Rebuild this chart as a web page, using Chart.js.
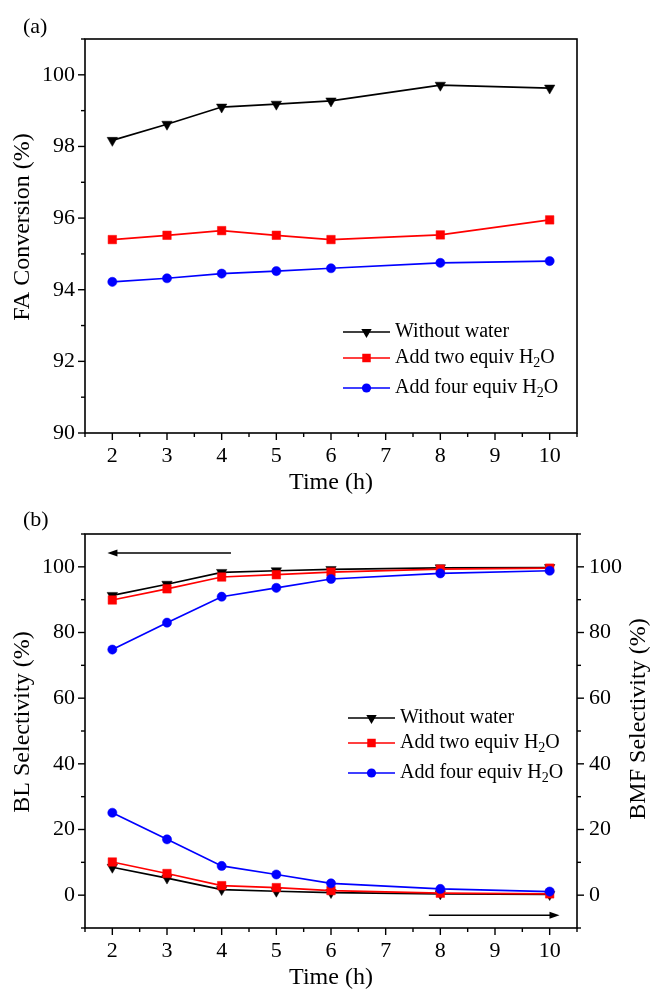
<!DOCTYPE html>
<html lang="en">
<head>
  <meta charset="UTF-8">
  <title>FA conversion and BL / BMF selectivity vs time</title>
  <script src="https://cdn.jsdelivr.net/npm/chart.js"></script>
  <style>
    html, body { margin: 0; padding: 0; background: #fff; }
    .panel { position: relative; width: 651px; height: 495px; }
  </style>
</head>
<body>
  <div class="panel"><canvas id="chart-a" width="651" height="495"></canvas></div>
  <div class="panel"><canvas id="chart-b" width="651" height="495"></canvas></div>
  <script>
    // reaction time (h) of each sample and the labelled x ticks
    const times = [2, 3, 4, 5, 6, 8, 10];
    const timeTicks = [2, 3, 4, 5, 6, 7, 8, 9, 10];
    const seriesNames = ['Without water', 'Add two equiv H_2O', 'Add four equiv H_2O'];

    // (a) FA conversion (%)
    const convWithout = [98.17, 98.62, 99.10, 99.18, 99.27, 99.71, 99.63];
    const convTwo = [95.40, 95.52, 95.65, 95.52, 95.40, 95.53, 95.95];
    const convFour = [94.22, 94.32, 94.45, 94.52, 94.60, 94.75, 94.80];
    const convTicks = [90, 92, 94, 96, 98, 100];

    // (b) BL selectivity (%, left axis) and BMF selectivity (%, right axis)
    const blWithout = [91.3, 94.7, 98.3, 98.8, 99.2, 99.7, 99.8];
    const blTwo = [89.9, 93.3, 96.9, 97.6, 98.4, 99.3, 99.6];
    const blFour = [74.8, 83.0, 90.9, 93.6, 96.3, 98.0, 98.8];
    const bmfWithout = [8.5, 5.2, 1.7, 1.2, 0.8, 0.4, 0.2];
    const bmfTwo = [10.1, 6.6, 2.9, 2.3, 1.4, 0.6, 0.4];
    const bmfFour = [25.1, 17.0, 8.9, 6.3, 3.6, 1.9, 1.1];
    const selTicks = [0, 20, 40, 60, 80, 100];

    const FONT = "'Liberation Serif', 'Times New Roman', serif";
    Chart.defaults.color = '#000';
    Chart.defaults.font.family = FONT;

    const looks = [
      { color: '#000000', pointStyle: 'triangle', rotation: 180, radius: 6, order: 2 },
      { color: '#ff0000', pointStyle: 'rect', rotation: 0, radius: 6, order: 1 },
      { color: '#0000ff', pointStyle: 'circle', rotation: 0, radius: 4.6, order: 0 }
    ];

    function makeSet(values, i, axis) {
      const s = looks[i];
      return {
        label: seriesNames[i],
        data: times.map((t, k) => ({ x: t, y: values[k] })),
        yAxisID: axis,
        borderColor: s.color,
        backgroundColor: s.color,
        borderWidth: 1.7,
        pointStyle: s.pointStyle,
        rotation: s.rotation,
        pointRadius: s.radius,
        pointBorderWidth: 0.5,
        order: s.order,
        tension: 0,
        clip: 8
      };
    }

    function setTicks(list) {
      return scale => { scale.ticks = list.map(v => ({ value: v })); };
    }

    function drawMarker(ctx, style, x, y) {
      ctx.fillStyle = style.color;
      ctx.beginPath();
      if (style.pointStyle === 'triangle') {
        const r = style.radius;
        ctx.moveTo(x - r * 0.866, y - r * 0.5);
        ctx.lineTo(x + r * 0.866, y - r * 0.5);
        ctx.lineTo(x, y + r);
      } else if (style.pointStyle === 'rect') {
        const h = style.radius * Math.SQRT1_2;
        ctx.rect(x - h, y - h, 2 * h, 2 * h);
      } else {
        ctx.arc(x, y, style.radius, 0, Math.PI * 2);
      }
      ctx.closePath();
      ctx.fill();
    }

    // text with "_2" style subscripts
    function drawRich(ctx, text, x, y, size) {
      const parts = text.split(/_(\d)/);
      ctx.textAlign = 'left';
      ctx.textBaseline = 'middle';
      parts.forEach((p, idx) => {
        const sub = idx % 2 === 1;
        ctx.font = (sub ? Math.round(size * 0.68) : size) + 'px ' + FONT;
        ctx.fillText(p, x, sub ? y + size * 0.28 : y);
        x += ctx.measureText(p).width;
      });
    }

    // frame, outward major/minor ticks, y titles, legend, arrows and panel letter
    const decorPlugin = {
      id: 'decor',
      afterDraw(chart, args, opts) {
        const ctx = chart.ctx;
        const a = chart.chartArea;
        ctx.save();
        ctx.strokeStyle = '#000';
        ctx.lineWidth = 1.6;
        ctx.strokeRect(a.left, a.top, a.right - a.left, a.bottom - a.top);

        ctx.lineWidth = 1.4;
        opts.ticks.forEach(t => {
          const sc = chart.scales[t.axis];
          for (let v = sc.min; v <= sc.max + 1e-9; v += t.minorStep) {
            const major = t.major.some(m => Math.abs(m - v) < 1e-9);
            const len = major ? 7 : 4;
            const p = sc.getPixelForValue(v);
            ctx.beginPath();
            if (t.side === 'bottom') { ctx.moveTo(p, a.bottom); ctx.lineTo(p, a.bottom + len); }
            if (t.side === 'left') { ctx.moveTo(a.left, p); ctx.lineTo(a.left - len, p); }
            if (t.side === 'right') { ctx.moveTo(a.right, p); ctx.lineTo(a.right + len, p); }
            ctx.stroke();
          }
        });

        (opts.arrows || []).forEach(ar => {
          const xs = chart.scales.x, ys = chart.scales[ar.axis];
          const x0 = xs.getPixelForValue(ar.from), x1 = xs.getPixelForValue(ar.to);
          const y = ys.getPixelForValue(ar.y);
          const dir = Math.sign(x1 - x0);
          ctx.strokeStyle = '#000';
          ctx.lineWidth = 1.5;
          ctx.beginPath();
          ctx.moveTo(x0, y);
          ctx.lineTo(x1 - dir * 6, y);
          ctx.stroke();
          ctx.fillStyle = '#000';
          ctx.beginPath();
          ctx.moveTo(x1, y);
          ctx.lineTo(x1 - dir * 10, y - 3.5);
          ctx.lineTo(x1 - dir * 10, y + 3.5);
          ctx.closePath();
          ctx.fill();
        });

        // vertical axis titles, both read bottom to top
        ctx.fillStyle = '#000';
        ctx.font = '24px ' + FONT;
        ctx.textAlign = 'center';
        ctx.textBaseline = 'middle';
        opts.yTitles.forEach(tt => {
          ctx.save();
          ctx.translate(tt.x, tt.y);
          ctx.rotate(-Math.PI / 2);
          ctx.fillText(tt.text, 0, 0);
          ctx.restore();
        });

        const lg = opts.legend;
        lg.rows.forEach((ry, i) => {
          const s = looks[i];
          ctx.strokeStyle = s.color;
          ctx.lineWidth = 1.7;
          ctx.beginPath();
          ctx.moveTo(lg.x, ry);
          ctx.lineTo(lg.x + 47, ry);
          ctx.stroke();
          drawMarker(ctx, s, lg.x + 23.5, ry);
          ctx.fillStyle = '#000';
          drawRich(ctx, seriesNames[i], lg.x + 52, ry, 20);
        });

        ctx.fillStyle = '#000';
        ctx.font = '22px ' + FONT;
        ctx.textAlign = 'left';
        ctx.textBaseline = 'middle';
        ctx.fillText(opts.letter.text, opts.letter.x, opts.letter.y);
        ctx.restore();
      }
    };

    const tickFont = { family: FONT, size: 22 };
    const titleFont = { family: FONT, size: 24, lineHeight: 1 };

    function xAxis() {
      return {
        type: 'linear', min: 1.5, max: 10.5,
        afterBuildTicks: setTicks(timeTicks),
        afterFit: s => { s.height = 62; },
        grid: { display: false, drawTicks: false },
        border: { display: false },
        ticks: { font: tickFont, padding: 10, autoSkip: false, maxRotation: 0 },
        title: { display: true, text: 'Time (h)', font: titleFont, padding: { top: 0, bottom: 0 } }
      };
    }

    function yAxis(min, max, tickList, side, width) {
      return {
        type: 'linear', position: side, min: min, max: max,
        afterBuildTicks: setTicks(tickList),
        afterFit: s => { s.width = width; },
        grid: { display: false, drawTicks: false },
        border: { display: false },
        ticks: { font: tickFont, padding: side === 'left' ? 10 : 12, autoSkip: false },
        title: { display: false }
      };
    }

    new Chart(document.getElementById('chart-a'), {
      type: 'line',
      data: {
        datasets: [
          makeSet(convWithout, 0, 'y'),
          makeSet(convTwo, 1, 'y'),
          makeSet(convFour, 2, 'y')
        ]
      },
      options: {
        responsive: false,
        animation: false,
        devicePixelRatio: 1,
        layout: { padding: { left: 0, right: 74, top: 39, bottom: 0 } },
        scales: {
          x: xAxis(),
          y: yAxis(90, 101, convTicks, 'left', 85)
        },
        plugins: {
          legend: { display: false },
          tooltip: { enabled: false },
          decor: {
            letter: { text: '(a)', x: 23, y: 27 },
            yTitles: [{ text: 'FA Conversion (%)', x: 23, y: 227 }],
            legend: { x: 343, rows: [332, 358, 388] },
            ticks: [
              { axis: 'x', side: 'bottom', major: timeTicks, minorStep: 0.5 },
              { axis: 'y', side: 'left', major: convTicks, minorStep: 1 }
            ]
          }
        }
      },
      plugins: [decorPlugin]
    });

    new Chart(document.getElementById('chart-b'), {
      type: 'line',
      data: {
        datasets: [
          makeSet(blWithout, 0, 'y'),
          makeSet(blTwo, 1, 'y'),
          makeSet(blFour, 2, 'y'),
          makeSet(bmfWithout, 0, 'y1'),
          makeSet(bmfTwo, 1, 'y1'),
          makeSet(bmfFour, 2, 'y1')
        ]
      },
      options: {
        responsive: false,
        animation: false,
        devicePixelRatio: 1,
        layout: { padding: { left: 0, right: 0, top: 39, bottom: 0 } },
        scales: {
          x: xAxis(),
          y: yAxis(-10, 110, selTicks, 'left', 85),
          y1: yAxis(-10, 110, selTicks, 'right', 74)
        },
        plugins: {
          legend: { display: false },
          tooltip: { enabled: false },
          decor: {
            letter: { text: '(b)', x: 23, y: 25 },
            yTitles: [
              { text: 'BL Selectivity (%)', x: 23, y: 227 },
              { text: 'BMF Selectivity (%)', x: 639, y: 224 }
            ],
            legend: { x: 348, rows: [223, 248, 278] },
            arrows: [
              { axis: 'y', y: 104.2, from: 4.17, to: 1.91 },
              { axis: 'y1', y: -6.1, from: 7.79, to: 10.18 }
            ],
            ticks: [
              { axis: 'x', side: 'bottom', major: timeTicks, minorStep: 0.5 },
              { axis: 'y', side: 'left', major: selTicks, minorStep: 10 },
              { axis: 'y1', side: 'right', major: selTicks, minorStep: 10 }
            ]
          }
        }
      },
      plugins: [decorPlugin]
    });
  </script>
</body>
</html>
